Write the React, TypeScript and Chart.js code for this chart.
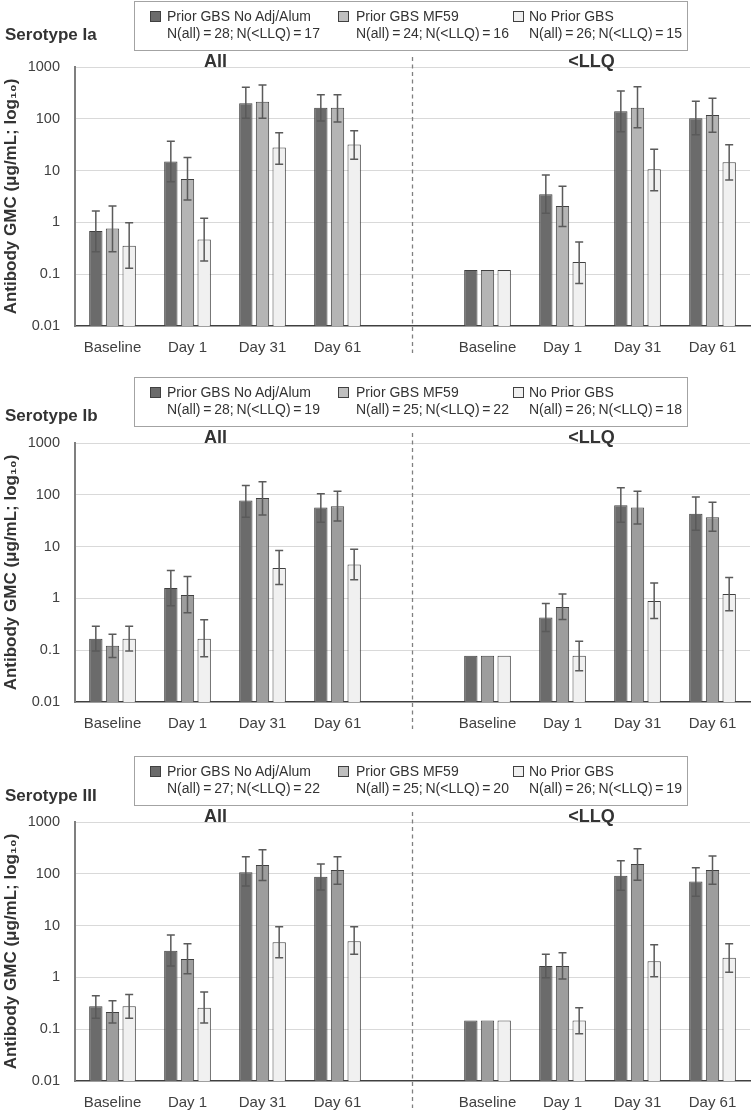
import React, { useEffect, useRef } from 'react';
import { Chart, registerables } from 'chart.js';

Chart.register(...registerables);

const FONT = "'Liberation Sans', Arial, sans-serif";
Chart.defaults.font.family = FONT;

const categories = ['Baseline', 'Day 1', 'Day 31', 'Day 61', '', 'Baseline', 'Day 1', 'Day 31', 'Day 61'];
const yTickValues = [0.01, 0.1, 1, 10, 100, 1000];
const yTickLabels = ['0.01', '0.1', '1', '10', '100', '1000'];
const seriesNames = ['Prior GBS No Adj/Alum', 'Prior GBS MF59', 'No Prior GBS'];
const groupLabels = ['All', '<LLQ'];

// Serotype Ia
const iaNoAdj = [0.68, 15, 200, 163, null, 0.12, 3.5, 140, 103];
const iaNoAdjHi = [1.66, 37, 405, 292, null, null, 8.2, 344, 218];
const iaNoAdjLo = [0.27, 6.1, 102, 91, null, null, 1.5, 56, 49];
const iaMf59 = [0.76, 6.9, 214, 163, null, 0.12, 2.07, 164, 118];
const iaMf59Hi = [2.07, 18, 450, 292, null, null, 5.0, 417, 249];
const iaMf59Lo = [0.27, 2.7, 102, 87, null, null, 0.83, 67, 55];
const iaNoPrior = [0.355, 0.47, 27.8, 32, null, 0.12, 0.172, 10.6, 14.5];
const iaNoPriorHi = [0.99, 1.2, 54, 59, null, null, 0.42, 25.8, 31.6];
const iaNoPriorLo = [0.13, 0.18, 13.3, 16.6, null, null, 0.066, 4.1, 6.6];
const iaNAll = [28, 24, 26];
const iaNLlq = [17, 16, 15];

// Serotype Ib
const ibNoAdj = [0.166, 1.585, 78, 57, null, 0.078, 0.426, 63, 43];
const ibNoAdjHi = [0.29, 3.45, 152, 105, null, null, 0.8, 137, 91];
const ibNoAdjLo = [0.097, 0.72, 36.8, 29.5, null, null, 0.229, 29.5, 20.6];
const ibMf59 = [0.122, 1.16, 87, 60, null, 0.078, 0.68, 57, 36.8];
const ibMf59Hi = [0.203, 2.65, 179, 117, null, null, 1.22, 117, 72];
const ibMf59Lo = [0.072, 0.53, 40.7, 31.2, null, null, 0.39, 27.3, 19.7];
const ibNoPrior = [0.166, 0.166, 3.85, 4.5, null, 0.078, 0.078, 0.89, 1.22];
const ibNoPriorHi = [0.29, 0.385, 8.4, 8.9, null, null, 0.149, 1.98, 2.53];
const ibNoPriorLo = [0.097, 0.075, 1.86, 2.29, null, null, 0.04, 0.41, 0.58];
const ibNAll = [28, 25, 26];
const ibNLlq = [19, 22, 18];

// Serotype III
const iiiNoAdj = [0.277, 3.27, 107, 88, null, 0.148, 1.66, 92, 71];
const iiiNoAdjHi = [0.44, 6.6, 214, 155, null, null, 2.8, 179, 131];
const iiiNoAdjLo = [0.163, 1.66, 58, 48.6, null, null, 0.99, 48, 37];
const iiiMf59 = [0.215, 2.26, 148, 118, null, 0.148, 1.66, 155, 118];
const iiiMf59Hi = [0.355, 4.47, 292, 214, null, null, 3.0, 305, 220];
const iiiMf59Lo = [0.132, 1.17, 74, 63, null, null, 0.93, 75, 63];
const iiiNoPrior = [0.277, 0.26, 4.76, 5.0, null, 0.148, 0.148, 2.04, 2.4];
const iiiNoPriorHi = [0.47, 0.52, 9.5, 9.5, null, null, 0.26, 4.27, 4.47];
const iiiNoPriorLo = [0.163, 0.132, 2.4, 2.8, null, null, 0.082, 1.03, 1.26];
const iiiNAll = [27, 25, 26];
const iiiNLlq = [22, 20, 19];

const panels = [
  {
    title: 'Serotype Ia', top: 67, titleBase: -26, s2Color: '#b5b5b5',
    v: [iaNoAdj, iaMf59, iaNoPrior], hi: [iaNoAdjHi, iaMf59Hi, iaNoPriorHi], lo: [iaNoAdjLo, iaMf59Lo, iaNoPriorLo],
    nAll: iaNAll, nLlq: iaNLlq,
  },
  {
    title: 'Serotype Ib', top: 443, titleBase: -21, s2Color: '#9d9d9d',
    v: [ibNoAdj, ibMf59, ibNoPrior], hi: [ibNoAdjHi, ibMf59Hi, ibNoPriorHi], lo: [ibNoAdjLo, ibMf59Lo, ibNoPriorLo],
    nAll: ibNAll, nLlq: ibNLlq,
  },
  {
    title: 'Serotype III', top: 822, titleBase: -20, s2Color: '#9d9d9d',
    v: [iiiNoAdj, iiiMf59, iiiNoPrior], hi: [iiiNoAdjHi, iiiMf59Hi, iiiNoPriorHi], lo: [iiiNoAdjLo, iiiMf59Lo, iiiNoPriorLo],
    nAll: iiiNAll, nLlq: iiiNLlq,
  },
];

const S1 = '#6b6b6b';
const S3 = '#f0f0f0';
const BORDER = '#404040';
const legendMarkerColors = [S1, '#bfbfbf', S3];
const markerX = [150, 338, 513];
const textX = [167, 356, 529];
const groupLabelX = [215.5, 591.5];

const errorBarPlugin = {
  id: 'errorBars',
  afterDatasetsDraw(chart: any) {
    const ctx = chart.ctx;
    const y = chart.scales.y;
    chart.data.datasets.forEach((ds: any, di: number) => {
      const meta = chart.getDatasetMeta(di);
      meta.data.forEach((bar: any, i: number) => {
        const hi = ds.errHi[i];
        const lo = ds.errLo[i];
        if (hi == null || lo == null) return;
        const x = bar.x;
        const yh = y.getPixelForValue(hi);
        const yl = y.getPixelForValue(lo);
        ctx.save();
        ctx.strokeStyle = '#5a5a5a';
        ctx.lineWidth = 1.5;
        ctx.beginPath();
        ctx.moveTo(x, yh); ctx.lineTo(x, yl);
        ctx.moveTo(x - 4, yh); ctx.lineTo(x + 4, yh);
        ctx.moveTo(x - 4, yl); ctx.lineTo(x + 4, yl);
        ctx.stroke();
        ctx.restore();
      });
    });
  },
};

const dividerPlugin = {
  id: 'divider',
  afterDatasetsDraw(chart: any) {
    const ctx = chart.ctx;
    const x = chart.scales.x.getPixelForValue(4);
    const a = chart.chartArea;
    ctx.save();
    ctx.strokeStyle = '#808080';
    ctx.lineWidth = 1.3;
    ctx.setLineDash([4, 3.5]);
    ctx.beginPath();
    ctx.moveTo(x, a.top - 10);
    ctx.lineTo(x, a.bottom + 27);
    ctx.stroke();
    ctx.restore();
  },
};

function Panel({ cfg }: { cfg: any }) {
  const ref = useRef<HTMLCanvasElement | null>(null);
  useEffect(() => {
    const colors = [S1, cfg.s2Color, S3];
    const chart = new Chart(ref.current as HTMLCanvasElement, {
      type: 'bar',
      data: {
        labels: categories,
        datasets: [0, 1, 2].map((k) => ({
          label: seriesNames[k],
          data: cfg.v[k],
          errHi: cfg.hi[k],
          errLo: cfg.lo[k],
          backgroundColor: colors[k],
          borderColor: BORDER,
          borderWidth: 1,
          categoryPercentage: 0.667,
          barPercentage: 0.8,
        })) as any,
      },
      options: {
        animation: false,
        responsive: false,
        events: [],
        layout: { padding: { top: 67, left: 0, right: 1, bottom: 0 } },
        plugins: { legend: { display: false }, tooltip: { enabled: false } },
        scales: {
          x: {
            grid: { display: false },
            border: { display: true, color: BORDER, width: 1.5 },
            ticks: { color: '#404040', font: { size: 15 }, padding: 5, autoSkip: false, maxRotation: 0 },
            afterFit: (s: any) => { s.height = 44; },
          },
          y: {
            type: 'logarithmic',
            min: 0.01,
            max: 1000,
            afterBuildTicks: (s: any) => { s.ticks = yTickValues.map((v) => ({ value: v })); },
            ticks: {
              autoSkip: false,
              callback: (v: any) => yTickLabels[yTickValues.indexOf(v)] ?? '',
              color: '#404040',
              font: { size: 14.5 },
              padding: 15,
            },
            grid: {
              drawTicks: false,
              lineWidth: 1,
              color: (c: any) => (c.tick && c.tick.value === 0.01 ? 'rgba(0,0,0,0)' : '#d9d9d9'),
            },
            border: { display: true, color: '#7f7f7f', width: 2 },
            title: {
              display: true,
              text: 'Antibody GMC (μg/mL; log₁₀)',
              color: '#333333',
              font: { size: 17, weight: 'bold' },
              padding: { top: 1, bottom: 0 },
            },
            afterFit: (s: any) => { s.width = 75; },
          },
        },
      } as any,
      plugins: [errorBarPlugin, dividerPlugin],
    });
    return () => chart.destroy();
  }, [cfg]);

  const T = cfg.top;
  return (
    <>
      <canvas
        ref={ref}
        width={751}
        height={370}
        style={{ position: 'absolute', left: 0, top: T - 67, width: 751, height: 370, display: 'block' }}
      />
      <div
        style={{
          position: 'absolute', left: 134, top: T - 66, width: 554, height: 50,
          border: '1.5px solid #a3a3a3', boxSizing: 'border-box', background: '#fff',
        }}
      />
      {[0, 1, 2].map((k) => (
        <React.Fragment key={k}>
          <div
            style={{
              position: 'absolute', left: markerX[k], top: T - 56.5, width: 11, height: 11,
              boxSizing: 'border-box', border: '1px solid ' + BORDER, background: legendMarkerColors[k],
            }}
          />
          <div
            style={{
              position: 'absolute', left: textX[k], top: T - 58.6, fontSize: 14, lineHeight: '17px',
              color: '#333', whiteSpace: 'nowrap',
            }}
          >
            {seriesNames[k]}
          </div>
          <div
            style={{
              position: 'absolute', left: textX[k], top: T - 41.6, fontSize: 14, lineHeight: '17px',
              color: '#333', whiteSpace: 'nowrap',
            }}
          >
            {`N(all)\u2009=\u2009${cfg.nAll[k]};\u2009N(<LLQ)\u2009=\u2009${cfg.nLlq[k]}`}
          </div>
        </React.Fragment>
      ))}
      <div
        style={{
          position: 'absolute', left: 5, top: T + cfg.titleBase - 15.9, fontSize: 17, lineHeight: '20px',
          fontWeight: 'bold', color: '#333', whiteSpace: 'nowrap',
        }}
      >
        {cfg.title}
      </div>
      {groupLabels.map((g, i) => (
        <div
          key={g}
          style={{
            position: 'absolute', left: groupLabelX[i] - 50, width: 100, textAlign: 'center',
            top: T - 15, fontSize: 18, lineHeight: '18px', fontWeight: 'bold', color: '#333',
          }}
        >
          {g}
        </div>
      ))}
    </>
  );
}

export default function App() {
  return (
    <div
      style={{
        position: 'absolute', left: 0, top: 0, width: 751, height: 1110, background: '#fff',
        fontFamily: FONT, overflow: 'hidden',
      }}
    >
      {panels.map((p) => (
        <Panel key={p.title} cfg={p} />
      ))}
    </div>
  );
}
